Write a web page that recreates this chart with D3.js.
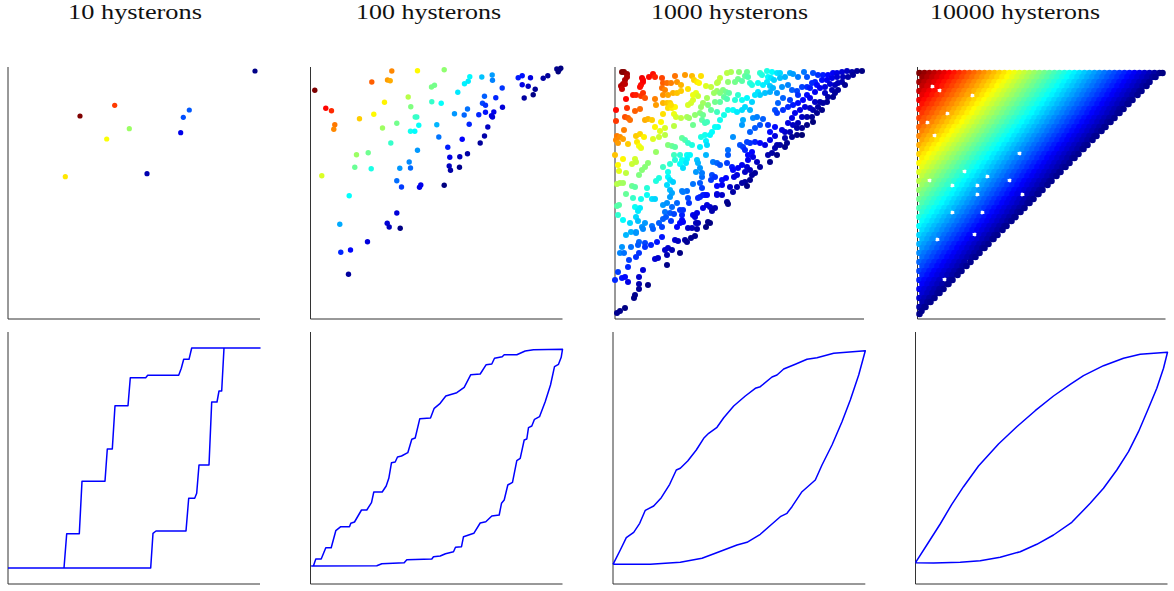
<!DOCTYPE html>
<html>
<head>
<meta charset="utf-8">
<style>
  html, body { margin: 0; background: #fff; }
  svg { display: block; }
</style>
<script src="https://cdn.jsdelivr.net/npm/d3@7"></script>
</head>
<body>
<svg id="chart" width="1174" height="591"></svg>
<script>
const titles = ["10 hysterons", "100 hysterons", "1000 hysterons", "10000 hysterons"];

// top row: [x, y] of each hysteron
const points10 = [[247,248],[106.7,213.7],[72,203],[181.3,209],[175.3,201.7],[172.7,186.3],[121.3,190.3],[98.7,180],[57.3,142.3],[139,145.3]];

const points100 = [[4.3,228.7],[15.3,210.7],[21,208.3],[24.3,194.3],[23.3,189.7],[61.3,237],[81.3,248],[77,239],[79.7,238.3],[107,248.3],[133.7,249.3],[49,200.3],[63.3,204.7],[74,216.7],[97.7,222],[100.3,212.3],[121,232],[124,233.7],[121.3,217.3],[130.7,215.7],[72,191],[86.3,195.7],[104.7,202],[106.3,202],[108.3,193.7],[100,187.7],[104.3,187.7],[80.3,176],[46,164.3],[57.7,166.3],[44.3,151.7],[60.7,150.3],[11.3,143.3],[38.7,123.3],[29.3,94.7],[30.3,66.7],[40,69],[38,44.7],[57,77.3],[86.3,106],[76.7,95.7],[78.7,92],[89.7,90.7],[86.3,138.3],[91,132],[89.3,150.7],[98.7,157],[100,151],[107,168.7],[109,131.7],[110.3,134],[133.7,133.7],[126.3,194.3],[128.3,182],[137.3,171.7],[139.3,161.7],[138.7,153],[140,148.7],[149.3,162.3],[157,165.3],[149,151.7],[151.7,179.7],[158.7,194.7],[144,205.3],[153.7,204],[157,210],[147.3,226.7],[154,235.3],[157.7,237.7],[159.3,242.3],[171.3,242],[181.7,244],[182,238.7],[191.7,231],[174,222.7],[185.3,221.3],[172,215.7],[175,213.7],[168.3,204.3],[175,206.7],[183.3,207],[181,203.3],[182,202],[192,211.7],[177.3,192],[174,183],[169.7,176],[207.7,241.3],[211.7,243.3],[220,241.3],[211.7,234.3],[217.7,232.7],[224.7,229.7],[222.7,224.3],[213.7,221],[232.7,240.7],[237.3,243.3],[246.3,250],[250.3,250.7],[247.7,247.3],[248.7,249.3]];

const points1000 = [[7,247],[9,247],[12,245],[12,242],[10,239],[8,235],[6,233],[7,230],[10,235],[27,241],[28,237],[26,234],[25,232],[34,242],[38,245],[40,242],[28,239],[47,241],[18,224],[21,224],[26,223],[28,226],[30,221],[11,220],[12,211],[1,209],[1,198],[20,208],[25,210],[10,202],[13,201],[15,199],[9,189],[2,183],[5,182],[8,180],[1,179],[3,176],[13,175],[30,199],[33,200],[37,199],[40,220],[41,214],[60,243],[70,244],[77,243],[86,243],[48,236],[52,236],[56,236],[47,231],[50,229],[62,237],[66,234],[73,230],[79,239],[82,237],[84,236],[91,233],[96,232],[48,224],[53,224],[58,226],[62,226],[66,228],[48,216],[52,216],[55,216],[53,211],[57,211],[60,212],[56,214],[48,205],[46,197],[40,192],[45,188],[50,191],[59,205],[61,202],[59,193],[66,201],[72,202],[74,201],[73,214],[76,216],[78,219],[78,224],[81,226],[83,223],[92,221],[88,216],[86,212],[103,237],[105,241],[102,236],[112,246],[116,247],[113,237],[99,226],[102,228],[105,226],[108,229],[111,227],[114,226],[109,222],[112,220],[105,217],[100,217],[93,214],[96,209],[102,207],[113,209],[118,209],[109,204],[105,199],[103,192],[100,192],[80,204],[85,206],[88,204],[92,197],[87,199],[90,196],[78,194],[21,183],[25,185],[29,182],[22,177],[24,173],[26,171],[38,180],[44,182],[50,184],[41,167],[53,174],[57,173],[60,172],[67,181],[70,179],[73,176],[86,182],[90,184],[95,184],[97,187],[91,178],[92,174],[85,172],[77,174],[59,164],[65,164],[72,164],[75,164],[60,159],[67,159],[72,160],[65,155],[71,156],[0,164],[8,160],[20,160],[3,154],[4,148],[17,155],[21,157],[33,156],[30,152],[27,149],[24,144],[48,152],[55,155],[53,147],[53,142],[55,139],[58,137],[68,151],[44,141],[41,138],[32,131],[11,146],[2,135],[5,136],[8,136],[17,133],[20,132],[52,134],[55,129],[57,126],[11,125],[67,128],[72,128],[78,135],[87,142],[85,136],[87,131],[82,159],[83,156],[91,164],[98,157],[102,156],[105,154],[113,169],[113,164],[112,156],[117,152],[118,149],[85,151],[81,147],[87,146],[97,144],[100,142],[96,139],[107,139],[111,141],[107,134],[102,133],[115,132],[119,142],[90,124],[102,125],[118,182],
[124,247],[132,247],[130,243],[133,242],[123,240],[120,237],[127,238],[135,236],[137,234],[145,246],[147,244],[152,248],[157,247],[162,246],[165,246],[153,242],[156,241],[159,239],[152,237],[143,236],[148,234],[155,233],[158,231],[143,227],[145,224],[150,226],[155,227],[140,224],[132,221],[137,217],[123,224],[120,219],[127,219],[122,207],[127,209],[135,209],[130,212],[165,241],[170,242],[175,246],[178,245],[183,242],[189,247],[192,242],[187,232],[177,229],[182,228],[192,232],[195,231],[173,234],[167,232],[162,226],[168,221],[175,219],[163,216],[160,209],[162,206],[168,209],[173,212],[178,214],[183,216],[188,219],[192,224],[183,224],[198,246],[200,237],[197,236],[202,234],[203,244],[208,244],[213,244],[218,246],[222,246],[227,247],[232,248],[237,247],[242,248],[247,248],[207,239],[212,239],[217,241],[222,242],[228,242],[233,242],[238,244],[227,237],[220,234],[215,235],[210,232],[205,231],[200,227],[210,226],[213,222],[195,221],[200,217],[205,217],[203,212],[198,209],[195,211],[190,212],[185,209],[180,206],[177,201],[173,196],[178,194],[183,196],[187,202],[192,202],[197,202],[202,206],[207,209],[212,217],[218,222],[223,229],[230,234],[217,229],[223,236],[220,226],[208,216],[198,197],[192,194],[187,191],[182,191],[175,187],[170,187],[167,189],[160,192],[155,187],[153,194],[145,194],[140,191],[135,187],[138,201],[142,202],[148,200],[128,199],[127,194],[170,181],[177,182],[182,184],[187,184],[160,183],[155,179],[140,177],[135,176],[132,177],[125,174],[128,172],[162,174],[165,174],[170,172],[160,171],[172,176],[150,174],[145,176],[130,169],[137,167],[133,164],[133,159],[138,162],[142,157],[145,152],[153,164],[157,166],[162,164],[155,157],[127,154],[132,152],[123,151],[122,144],[130,147],[135,149],[140,146],[137,144],[135,139],[130,137],[132,133],[122,132],[127,136],
[18,121],[26,120],[32,124],[37,120],[40,120],[2,113],[4,114],[20,112],[23,108],[25,111],[3,104],[8,99],[15,96],[21,102],[23,98],[48,114],[52,116],[55,122],[62,116],[50,107],[55,106],[59,105],[57,112],[68,127],[85,122],[88,124],[92,124],[102,124],[107,124],[118,127],[73,121],[74,116],[83,121],[95,112],[100,111],[97,108],[88,111],[92,114],[112,117],[113,115],[30,96],[27,92],[28,90],[21,87],[16,87],[21,86],[11,84],[37,93],[38,90],[44,96],[47,92],[48,100],[51,102],[56,98],[62,92],[65,96],[67,104],[65,109],[68,109],[67,99],[68,97],[78,104],[82,106],[80,102],[73,91],[77,91],[81,96],[83,96],[82,90],[93,97],[95,96],[91,92],[7,72],[5,66],[9,66],[16,72],[24,77],[23,74],[30,76],[30,72],[36,74],[42,77],[47,82],[60,79],[63,78],[70,79],[72,77],[76,81],[80,83],[21,62],[24,66],[14,59],[13,52],[3,47],[0,39],[7,41],[10,42],[13,37],[28,49],[24,42],[24,35],[24,30],[33,34],[20,24],[19,21],[50,69],[53,71],[57,69],[52,64],[65,66],[40,60],[43,61],[52,54],[2,6],[5,8],[10,11]];

// 10000 hysterons are too many to read one by one: rows of y, with the x read along each row
const rows10000 = [
[246,[2,7,12,17,22,27,32,37,42,47,52,57,62,67,72,77,82,87,92,97,102,107,112,117,122,127,132,137,142,147,152,157,162,167,172,177,182,187,192,197,202,207,212,217,222,227,232,237,242,245]],
[242,[5,10,15,20,25,30,35,40,45,50,55,60,65,70,75,80,85,90,95,100,105,110,115,120,125,130,135,140,145,150,155,160,165,170,175,180,185,190,195,200,205,210,215,220,225,230,235,238]],
[237,[2,7,12,17,22,27,32,37,42,47,52,57,62,67,72,77,82,87,92,97,102,107,112,117,122,127,132,137,142,147,152,157,162,167,172,177,182,187,192,197,202,207,212,217,222,227,232]],
[233,[5,10,20,25,30,35,40,45,50,55,60,65,70,75,80,85,90,95,100,105,110,115,120,125,130,135,140,145,150,155,160,165,170,175,180,185,190,195,200,205,210,215,220,225,229]],
[228,[2,7,12,17,27,32,37,42,47,52,57,62,67,72,77,82,87,92,97,102,107,112,117,122,127,132,137,142,147,152,157,162,167,172,177,182,187,192,197,202,207,212,217,222,224]],
[224,[5,10,15,20,25,30,35,40,45,50,60,65,70,75,80,85,90,95,100,105,110,115,120,125,130,135,140,145,150,155,160,165,170,175,180,185,190,195,200,205,210,215,220]],
[219,[2,7,12,17,22,27,32,37,42,47,52,57,62,67,72,77,82,87,92,97,102,107,112,117,122,127,132,137,142,147,152,157,162,167,172,177,182,187,192,197,202,207,212,215]],
[215,[5,10,15,20,25,30,35,40,45,50,55,60,65,70,75,80,85,90,95,100,105,110,115,120,125,130,135,140,145,150,155,160,165,170,175,180,185,190,195,200,205,210,211]],
[210,[2,7,12,17,22,27,32,37,42,47,52,57,62,67,72,77,82,87,92,97,102,107,112,117,122,127,132,137,142,147,152,157,162,167,172,177,182,187,192,197,202,206]],
[206,[5,10,15,20,25,35,40,45,50,55,60,65,70,75,80,85,90,95,100,105,110,115,120,125,130,135,140,145,150,155,160,165,170,175,180,185,190,195,200,202]],
[201,[2,7,12,17,22,27,32,37,42,47,52,57,62,67,72,77,82,87,92,97,102,107,112,117,122,127,132,137,142,147,152,157,162,167,172,177,182,187,192,197]],
[197,[5,15,20,25,30,35,40,45,50,55,60,65,70,75,80,85,90,95,100,105,110,115,120,125,130,135,140,145,150,155,160,165,170,175,180,185,190,193]],
[192,[2,7,12,17,22,27,32,37,42,47,52,57,62,67,72,77,82,87,92,97,102,107,112,117,122,127,132,137,142,147,152,157,162,167,172,177,182,187,188]],
[188,[5,10,15,20,25,30,35,40,45,50,55,60,65,70,75,80,85,90,95,100,105,110,115,120,125,130,135,140,145,150,155,160,165,170,175,180,184]],
[183,[2,7,12,22,27,32,37,42,47,52,57,62,67,72,77,82,87,92,97,102,107,112,117,122,127,132,137,142,147,152,157,162,167,172,177,179]],
[179,[5,10,15,20,25,30,35,40,45,50,55,60,65,70,75,80,85,90,95,100,105,110,115,120,125,130,135,140,145,150,155,160,165,170,175]],
[174,[2,7,12,17,22,27,32,37,42,47,52,57,62,67,72,77,82,87,92,97,102,107,112,117,122,127,132,137,142,147,152,157,162,167,170]],
[170,[5,10,15,20,25,30,35,40,45,50,55,60,65,70,75,80,85,90,95,100,105,110,115,120,125,130,135,140,145,150,155,160,165,166]],
[165,[2,7,12,17,22,27,32,37,42,47,52,57,62,67,72,77,82,87,92,97,107,112,117,122,127,132,137,142,147,152,157,161]],
[161,[5,10,15,20,25,30,35,40,45,50,55,60,65,70,75,80,85,90,95,100,105,110,115,120,125,130,135,140,145,150,155,157]],
[156,[2,7,12,17,22,27,32,37,42,47,52,57,62,67,72,77,82,87,92,97,102,107,112,117,122,127,132,137,142,147,152]],
[152,[5,10,15,20,25,30,35,40,45,50,55,60,65,70,75,80,85,90,95,100,105,110,115,120,125,130,135,140,145,148]],
[147,[2,7,12,17,22,27,32,37,42,52,57,62,67,72,77,82,87,92,97,102,107,112,117,122,127,132,137,142,143]],
[143,[5,10,15,20,25,30,35,40,45,50,55,60,65,75,80,85,90,95,100,105,110,115,120,125,130,135,139]],
[138,[2,7,17,22,27,32,37,42,47,52,57,62,67,72,77,82,87,97,102,107,112,117,122,127,132,134]],
[134,[5,10,15,20,25,30,40,45,50,55,65,70,75,80,85,90,95,100,105,110,115,120,125,130]],
[129,[2,7,12,17,22,27,32,37,42,47,52,57,62,67,72,77,82,87,92,97,102,107,112,117,122,125]],
[125,[5,10,15,20,25,30,35,40,45,50,55,65,70,75,80,85,90,95,100,110,115,120,121]],
[120,[2,7,12,17,22,27,32,37,42,47,52,57,62,67,72,77,82,87,92,97,102,107,112,116]],
[116,[5,10,15,20,25,30,35,40,45,50,55,60,65,70,75,80,85,90,95,100,105,110,112]],
[111,[2,7,12,17,22,27,32,37,42,47,52,57,62,67,72,77,82,87,92,97,102,107]],
[107,[5,10,15,20,25,30,40,45,50,55,60,70,75,80,85,90,95,100,103]],
[102,[2,7,12,17,22,27,32,37,42,47,52,57,62,67,72,77,82,87,92,97,98]],
[98,[5,10,15,20,25,30,35,40,45,50,55,60,65,70,75,80,85,90,94]],
[93,[2,7,12,17,22,27,32,37,42,47,52,57,62,67,72,77,82,87,89]],
[89,[5,10,15,20,25,30,35,40,45,50,55,60,65,70,75,80,85]],
[84,[2,7,12,17,22,27,32,37,42,47,52,62,67,72,77,80]],
[80,[5,10,15,25,30,35,40,45,50,55,60,65,70,75,76]],
[75,[2,7,12,17,22,27,32,37,42,47,52,57,62,67,71]],
[71,[5,10,15,20,25,30,35,40,45,50,55,60,65,67]],
[66,[2,7,12,17,22,27,32,37,42,47,52,57,62]],
[62,[5,10,15,20,25,30,35,40,45,50,55,58]],
[57,[2,7,12,17,22,27,32,37,42,47,53]],
[53,[5,10,15,20,25,30,35,40,45,49]],
[48,[2,7,12,17,22,27,32,37,42,44]],
[44,[5,10,15,20,25,30,35,40]],
[39,[2,7,12,17,22,32,35]],
[35,[5,10,15,20,25,30,31]],
[30,[2,7,12,17,22,26]],
[26,[5,10,15,20,22]],
[21,[2,7,12,17]],
[17,[5,10,13]],
[12,[2,7,8]],
[8,[4]],
[5,[2]]
];
const points10000 = rows10000.flatMap(r => r[1].map(x => [x, r[0]]));

// bottom row: one loop, up branch then down branch
const loop10 = [[0,16],[56,16],[58.7,50.3],[71.3,50.3],[74,102.7],[97,102.7],[99.3,135],[104.3,135],[107,178.3],[120,178.3],[122.3,206.3],[137.7,206.3],[139.7,208.7],[170.7,208.7],[173.3,215.7],[175.7,224.7],[181,224.7],[183.7,236],[252,236],[216,236],[213.7,193],[211,193],[209,182],[203.7,182],[201,119],[191,119],[188.7,90.7],[186.7,85.7],[180.7,85.7],[178,53],[148,53],[145,50.7],[142.7,16],[0,16]];

const loop100 = [[0.7,18],[3,18.3],[5.3,25],[10.7,25],[15.3,36.3],[20.7,36.3],[25.3,53.3],[30.3,57.3],[39,57.3],[40.3,60.7],[44,62],[51,74],[56.3,74],[61,81.3],[63.3,92],[71.7,92],[75.7,98],[78.3,105.7],[81,121.3],[84.7,122],[87,127],[91,128],[97.3,131.3],[101.3,144.7],[104.7,146],[109.3,165.3],[120,166],[123.7,175.7],[129.7,180.7],[135.3,188],[146.3,191.3],[153.7,196.7],[160.3,209.3],[169.7,210],[175.7,219.3],[181.3,220],[184,225.7],[191.7,227.3],[193.7,229.3],[206.3,229.3],[214.7,233],[223,234.3],[252,234.7],
[250.7,226.7],[248,219.7],[244,217.3],[240,199],[234.7,182.3],[229,167.3],[224,164.7],[221.3,158],[218,156.3],[216.3,145],[213.7,144],[209.7,125.7],[206.3,123.3],[202,101.7],[197.3,99],[193.7,84],[191,80.7],[188.7,69],[181.3,68],[175.3,62.3],[169.7,61],[163.3,50.7],[153,47.3],[151,37.3],[145,36.7],[143,32.3],[135,30.3],[129.7,28],[123,27.3],[121.3,25],[96.3,24.3],[93.7,21.3],[71.3,20.3],[66.3,18.3],[0.7,18]];

const loop1000 = [[0,19.7],[7.3,34],[13.3,46.3],[20.7,51.7],[26.7,60.7],[32.3,73.7],[40.7,78],[48.3,86.3],[56.7,99.7],[63.3,114],[67.3,115.7],[74.7,123],[83.3,134],[90.7,145.7],[95.7,150.7],[104,156.7],[110.7,166.3],[120.7,178],[132.3,188],[142.3,195.7],[147.3,197.3],[159,207],[164,209],[170.7,215],[182.3,219.7],[194,224.7],[204,226.3],[220.7,230.7],[252.3,233.3],
[245.7,209],[237.3,184],[229,162.3],[219,139],[209,119],[202.3,104],[189,92.3],[179,77.3],[174,70.7],[167.3,67.3],[159,60],[147.3,49.7],[134,41.7],[124,39],[102.3,30.7],[89,25.7],[67.3,21.7],[37.3,19.7],[0,19.7]];

const loop10000 = [[0,21.3],[11.3,39],[24.7,60],[36.3,79.7],[48,97.3],[63,118],[83,140],[101.3,157.3],[119.7,173.3],[138,188],[154.7,199.7],[168,208.3],[188,218.3],[208,225.7],[224.7,229.7],[252,231.7],
[248,215.7],[241.3,195.7],[233,175.7],[223,152.3],[213,132.3],[201.3,114],[188,95.7],[174.7,80.7],[156.3,61.7],[138,49],[121.3,39.7],[104.7,32.3],[84.7,26.7],[64.7,23.3],[44.7,21.7],[18,21],[0,21.3]];

const scatters = [points10, points100, points1000, points10000];
const loops = [loop10, loop100, loop1000, loop10000];

// layout
const titleX = [68, 356, 651, 930],
    titleW = [134, 145, 157, 170],
    topLeft = [8, 310.5, 615, 917.5],
    topWidth = [252, 252, 249, 248],
    botLeft = [8, 310.5, 613, 915.5],
    botWidth = [252, 252, 252.3, 252],
    dotR = [2.6, 2.7, 3, 3.3];

// jet colormap, dark blue on the diagonal to dark red far from it
const jet = d3.scaleLinear()
    .domain([0, 0.125, 0.375, 0.625, 0.875, 1])
    .range(["#00007f", "#0000ff", "#00ffff", "#ffff00", "#ff0000", "#7f0000"]);

const svg = d3.select("#chart");

function drawAxes(g, x, y) {
    const bottom = g.append("g")
        .attr("transform", "translate(0," + y.range()[0] + ")")
        .call(d3.axisBottom(x).tickValues([]).tickSizeOuter(0).offset(0));
    const left = g.append("g")
        .attr("transform", "translate(" + x.range()[0] + ",0)")
        .call(d3.axisLeft(y).tickValues([]).tickSizeOuter(0).offset(0));
    bottom.select(".domain").attr("stroke", "#333");
    left.select(".domain").attr("stroke", "#333");
}

titles.forEach(function (t, i) {
    svg.append("text")
        .attr("x", titleX[i])
        .attr("y", 18.8)
        .attr("textLength", titleW[i])
        .attr("lengthAdjust", "spacingAndGlyphs")
        .attr("font-family", "'Liberation Serif', serif")
        .attr("font-size", 21)
        .attr("fill", "#111")
        .text(t);

    // scatter of hysterons, colour from the distance to the diagonal
    const x = d3.scaleLinear().domain([0, topWidth[i]]).range([topLeft[i], topLeft[i] + topWidth[i]]);
    const y = d3.scaleLinear().domain([0, 252]).range([319, 67]);
    const top = svg.append("g");
    drawAxes(top, x, y);

    const maxGap = d3.max(scatters[i], d => d[1] - d[0]);
    top.selectAll("circle")
        .data(scatters[i])
        .enter().append("circle")
        .attr("cx", d => x(d[0]))
        .attr("cy", d => y(d[1]))
        .attr("r", dotR[i])
        .attr("fill", d => jet((d[1] - d[0]) / maxGap));

    // hysteresis loop below it
    const lx = d3.scaleLinear().domain([0, botWidth[i]]).range([botLeft[i], botLeft[i] + botWidth[i]]);
    const ly = d3.scaleLinear().domain([0, 252]).range([584, 332]);
    const bot = svg.append("g");
    drawAxes(bot, lx, ly);

    bot.append("path")
        .datum(loops[i])
        .attr("fill", "none")
        .attr("stroke", "#0000ff")
        .attr("stroke-width", 1.5)
        .attr("stroke-linejoin", "round")
        .attr("d", d3.line().x(d => lx(d[0])).y(d => ly(d[1])));
});
</script>
</body>
</html>
